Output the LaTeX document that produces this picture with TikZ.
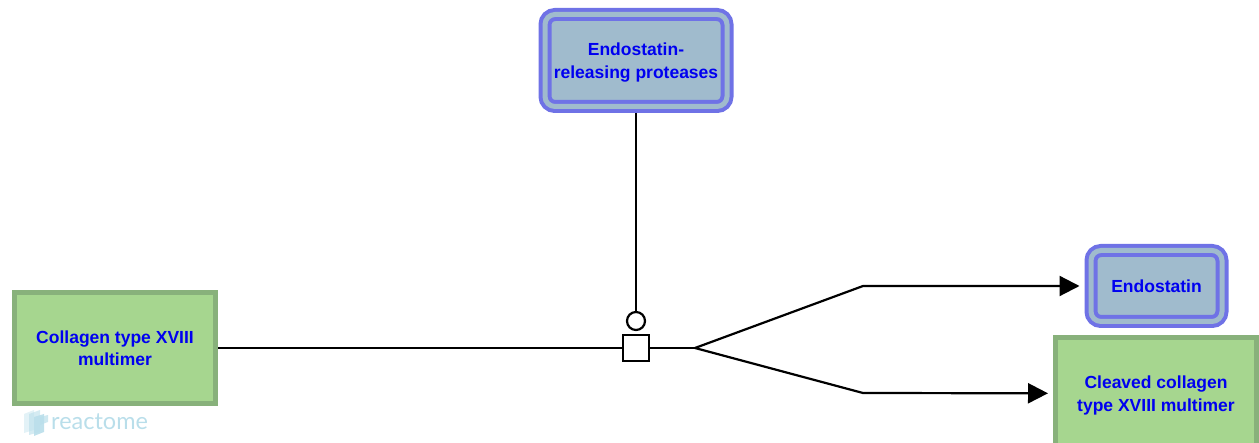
\documentclass[tikz,border=0pt]{standalone}
\usepackage{fontspec}
\setmainfont{Liberation Sans}
\newfontfamily\logofont{Lato}
\usetikzlibrary{arrows.meta}
\definecolor{complexfill}{HTML}{A0BBCD}
\definecolor{complexline}{HTML}{6F72E6}
\definecolor{polymerfill}{HTML}{A6D68F}
\definecolor{polymerline}{HTML}{88B17B}
\definecolor{labelblue}{HTML}{0000F0}
\definecolor{logoblue}{HTML}{B9DEEA}
\tikzset{
	complexbox/.style={draw=complexline, fill=complexfill, double=complexfill, double distance=5, line width=4, rounded corners=10, outer sep=6.5, text=labelblue, text depth=0, font=\bfseries\fontsize{17.5}{23}\selectfont, align=center},
	polymerbox/.style={draw=polymerline, fill=polymerfill, line width=5, outer sep=2.5, text=labelblue, text depth=0, font=\bfseries\fontsize{17.5}{22.5}\selectfont, align=center},
	flow/.style={line width=2.2, black},
	flowend/.style={flow, -{Triangle[length=20,width=20]}}
}
\begin{document}
\begin{tikzpicture}[x=1pt, y=-1pt]
	\useasboundingbox (0,0) rectangle (1259,443);
	\node[polymerbox, minimum width=201, minimum height=111](rcollagen) at (115,348){Collagen type XVIII\\multimer};
	\node[polymerbox, minimum width=201, minimum height=111](rcleaved) at (1156,393.5){Cleaved collagen\\type XVIII multimer};
	\node[complexbox, minimum width=182, minimum height=92](rprotease) at (636,60.5){Endostatin-\\releasing proteases};
	\node[complexbox, minimum width=131, minimum height=71](rendostatin) at (1156.5,286){Endostatin};
	\node[draw, fill=white, line width=2.2, minimum size=26.5, inner sep=0](rreaction) at (636,348){};
	\node[draw, fill=white, line width=2.2, circle, minimum size=18, inner sep=0](rcatalyst) at (636,321){};
	\coordinate (rsplit) at (695,348);
	\coordinate (rupper) at (863,286);
	\coordinate (rlower) at (863,393);
	\draw[flow] (rcollagen) -- (rreaction);
	\draw[flow] (rprotease) -- (rcatalyst);
	\draw[flow] (rreaction) -- (rsplit);
	\draw[flowend, shorten >=5] (rsplit) -- (rupper) -- (rendostatin);
	\draw[flowend, shorten >=5] (rsplit) -- (rlower) -- (rcleaved);
	\fill[logoblue, opacity=.4] (24,414) -- (34,410) -- (34,430) -- (24,433) -- cycle;
	\fill[logoblue, opacity=.6] (29,414) -- (40,410) -- (40,432) -- (29,435) -- cycle;
	\fill[logoblue, opacity=.9] (34,417) -- (44,414) -- (44,432) -- (34,436) -- cycle;
	\fill[logoblue, opacity=.7] (40,417) -- (48,415) -- (48,422) -- (40,425) -- cycle;
	\node[text=logoblue, font=\logofont\fontsize{23.5}{24}\selectfont, anchor=base west, inner sep=0](rlogo) at (51,429.5){reactome};
\end{tikzpicture}
\end{document}
